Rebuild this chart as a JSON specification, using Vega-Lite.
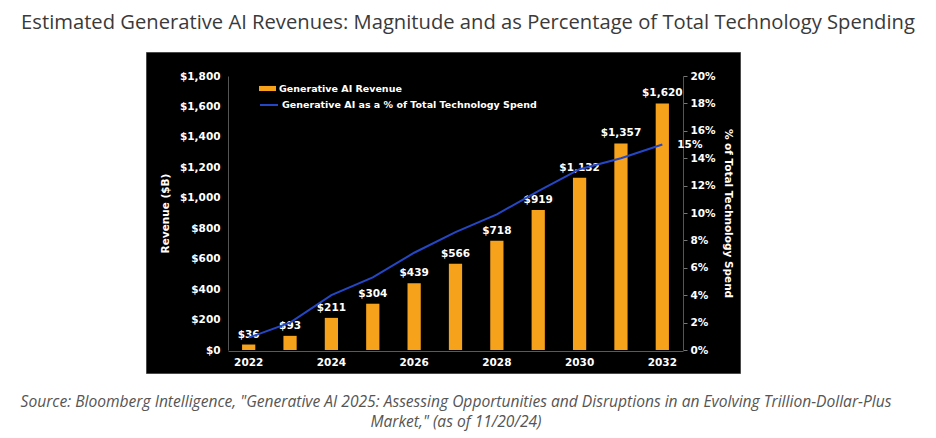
{
  "$schema": "https://vega.github.io/schema/vega-lite/v6.json",
  "autosize": {"type": "none"},
  "width": 594,
  "height": 321,
  "padding": {"left": 146, "top": 52, "right": 196, "bottom": 65},
  "background": "white",
  "config": {
    "view": {"fill": "#000000", "stroke": "#4a4a4a", "strokeWidth": 1},
    "font": "DejaVu Sans"
  },
  "title": {
    "text": "Estimated Generative AI Revenues: Magnitude and as Percentage of Total Technology Spending",
    "font": "Open Sans",
    "fontSize": 20.2,
    "fontWeight": "normal",
    "color": "#3a3a3a",
    "anchor": "middle",
    "dx": 25,
    "offset": 19
  },
  "data": {
    "values": [
      {"year": 2022, "revenue": 36, "pct": 0.009},
      {"year": 2023, "revenue": 93, "pct": 0.02},
      {"year": 2024, "revenue": 211, "pct": 0.04},
      {"year": 2025, "revenue": 304, "pct": 0.053},
      {"year": 2026, "revenue": 439, "pct": 0.071},
      {"year": 2027, "revenue": 566, "pct": 0.086},
      {"year": 2028, "revenue": 718, "pct": 0.099},
      {"year": 2029, "revenue": 919, "pct": 0.116},
      {"year": 2030, "revenue": 1132, "pct": 0.132},
      {"year": 2031, "revenue": 1357, "pct": 0.14},
      {"year": 2032, "revenue": 1620, "pct": 0.15}
    ]
  },
  "encoding": {
    "x": {
      "field": "year",
      "type": "ordinal",
      "scale": {"range": [82, 537], "paddingInner": 0.68, "paddingOuter": 0.34},
      "axis": {
        "values": [2022, 2024, 2026, 2028, 2030, 2032],
        "labelAngle": 0,
        "offset": -22,
        "domainColor": "#5a5a5a",
        "ticks": false,
        "grid": false,
        "labelColor": "white",
        "labelFontWeight": "bold",
        "labelFontSize": 10.5,
        "labelPadding": 6,
        "title": [
          "Source: Bloomberg Intelligence, \"Generative AI 2025: Assessing Opportunities and Disruptions in an Evolving Trillion-Dollar-Plus",
          "Market,\" (as of 11/20/24)"
        ],
        "titleColor": "#555555",
        "titleFont": "Open Sans",
        "titleFontStyle": "italic",
        "titleFontWeight": "normal",
        "titleFontSize": 15.6,
        "titlePadding": 27,
        "titleLineHeight": 20,
        "titleLimit": 0
      }
    }
  },
  "layer": [
    {
      "encoding": {
        "y": {
          "field": "revenue",
          "type": "quantitative",
          "scale": {"domain": [0, 1800], "range": [298, 24], "nice": false},
          "axis": {
            "orient": "left",
            "offset": -82,
            "values": [0, 200, 400, 600, 800, 1000, 1200, 1400, 1600, 1800],
            "format": "$,.0f",
            "ticks": false,
            "grid": false,
            "labelPadding": 8,
            "domainColor": "#555555",
            "labelColor": "white",
            "labelFontWeight": "bold",
            "labelFontSize": 10.5,
            "title": "Revenue ($B)",
            "titleColor": "white",
            "titleFontSize": 10.5,
            "titleFontWeight": "bold",
            "titlePadding": 9
          }
        }
      },
      "layer": [
        {
          "mark": {"type": "bar"},
          "encoding": {
            "fill": {
              "datum": "Generative AI Revenue",
              "scale": {"range": ["#F7A21B"]},
              "legend": {
                "orient": "none",
                "legendX": 113,
                "legendY": 28,
                "title": null,
                "padding": 0,
                "symbolType": "M-1,-0.3H1V0.3H-1Z",
                "symbolSize": 289,
                "symbolStrokeWidth": 0,
                "labelColor": "white",
                "labelFontWeight": "bold",
                "labelFontSize": 9.5,
                "labelOffset": 3,
                "labelLimit": 400
              }
            }
          }
        },
        {
          "mark": {"type": "text", "dy": -5, "baseline": "bottom", "color": "white", "fontWeight": "bold", "fontSize": 10.5},
          "encoding": {"text": {"field": "revenue", "format": "$,.0f"}}
        }
      ]
    },
    {
      "encoding": {
        "y": {
          "field": "pct",
          "type": "quantitative",
          "scale": {"domain": [0, 0.2], "range": [298, 24], "nice": false},
          "axis": {
            "orient": "right",
            "offset": -57,
            "values": [0, 0.02, 0.04, 0.06, 0.08, 0.1, 0.12, 0.14, 0.16, 0.18, 0.2],
            "format": ".0%",
            "ticks": true,
            "tickColor": "#777777",
            "tickSize": 4,
            "grid": false,
            "labelPadding": 3,
            "domainColor": "#555555",
            "labelColor": "white",
            "labelFontWeight": "bold",
            "labelFontSize": 10.5,
            "title": "% of Total Technology Spend",
            "titleColor": "white",
            "titleFontSize": 10.5,
            "titleFontWeight": "bold",
            "titlePadding": 7
          }
        }
      },
      "layer": [
        {
          "mark": {"type": "line", "strokeWidth": 2},
          "encoding": {
            "stroke": {
              "datum": "Generative AI as a % of Total Technology Spend",
              "scale": {"range": ["#2447C6"]},
              "legend": {
                "orient": "none",
                "legendX": 113,
                "legendY": 43,
                "title": null,
                "padding": 0,
                "symbolType": "stroke",
                "symbolSize": 324,
                "symbolStrokeWidth": 2,
                "labelColor": "white",
                "labelFontWeight": "bold",
                "labelFontSize": 9.5,
                "labelOffset": 3,
                "labelLimit": 400
              }
            }
          }
        },
        {
          "transform": [{"filter": "datum.year == 2032"}],
          "mark": {"type": "text", "align": "left", "dx": 15, "color": "white", "fontWeight": "bold", "fontSize": 10.5},
          "encoding": {"text": {"field": "pct", "format": ".0%"}}
        }
      ]
    }
  ],
  "resolve": {"scale": {"y": "independent"}}
}
